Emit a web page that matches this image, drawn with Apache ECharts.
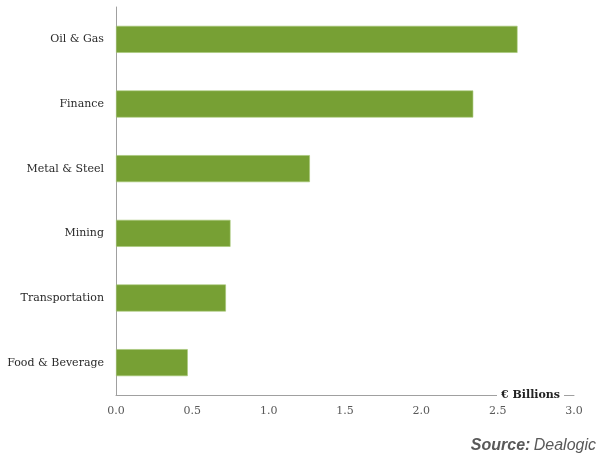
<!DOCTYPE html>
<html>
<head>
<meta charset="utf-8">
<script src="https://cdn.jsdelivr.net/npm/echarts@6/dist/echarts.min.js"></script>
<style>html,body{margin:0;padding:0;background:#fff}#c{width:598px;height:456px}</style>
</head>
<body>
<div id="c"></div>
<script>
const categories = ["Oil & Gas", "Finance", "Metal & Steel", "Mining", "Transportation", "Food & Beverage"];
const values = [2.63, 2.34, 1.27, 0.75, 0.72, 0.47];
const xTicks = [0, 0.5, 1, 1.5, 2, 2.5, 3];

const chart = echarts.init(document.getElementById('c'), null, {renderer: 'canvas'});
chart.setOption({
  animation: false,
  backgroundColor: '#ffffff',
  grid: {left: 116, right: 24, top: 7, bottom: 61, containLabel: false},
  xAxis: {
    type: 'value', min: xTicks[0], max: xTicks[xTicks.length - 1], interval: 0.5,
    axisLine: {show: true, lineStyle: {color: '#a0a0a0', width: 1}},
    axisTick: {show: false},
    splitLine: {show: false},
    axisLabel: {margin: 11, color: '#595959', fontFamily: 'DejaVu Serif', fontSize: 11,
      formatter: v => v.toFixed(1)}
  },
  yAxis: {
    type: 'category', data: categories, inverse: true,
    axisLine: {show: true, lineStyle: {color: '#a0a0a0', width: 1}},
    axisTick: {show: false},
    axisLabel: {margin: 12, color: '#2a2a2a', fontFamily: 'DejaVu Serif', fontSize: 11}
  },
  series: [{
    type: 'bar', data: values, barWidth: 27,
    itemStyle: {color: '#77a034', borderColor: '#a6c776', borderWidth: 0.6}
  }],
  graphic: [{
    type: 'text', left: 497, top: 389, z: 100,
    style: {
      text: '€ Billions',
      fontFamily: 'DejaVu Serif', fontWeight: 'bold', fontSize: 11, fill: '#222',
      backgroundColor: '#fff', padding: [1, 4, 1, 4]
    }
  }, {
    type: 'text', right: 2, top: 438,
    style: {
      rich: {
        b: {fontFamily: 'Liberation Sans', fontWeight: 'bold', fontStyle: 'italic', fontSize: 16, fill: '#595959'},
        n: {fontFamily: 'Liberation Sans', fontStyle: 'italic', fontSize: 16, fill: '#595959'}
      },
      text: '{b|Source:} {n|Dealogic}'
    }
  }]
});
</script>
</body>
</html>
